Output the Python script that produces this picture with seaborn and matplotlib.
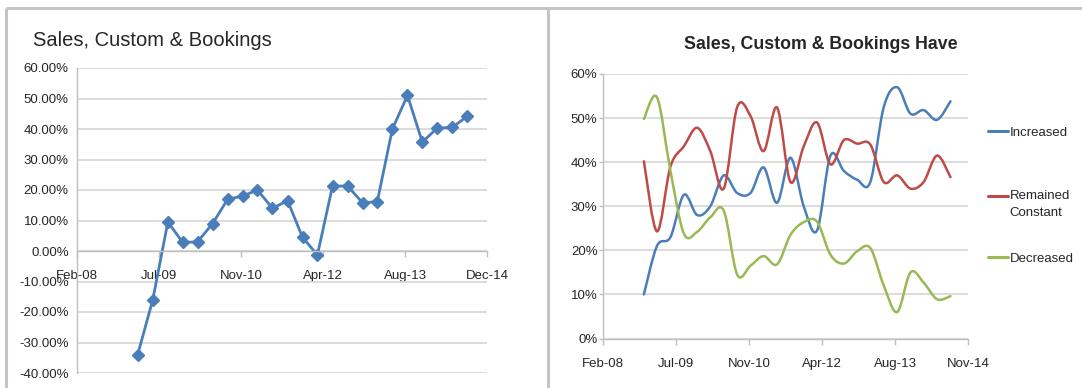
import numpy as np
import pandas as pd
import matplotlib
matplotlib.use("Agg")
import matplotlib.pyplot as plt
from matplotlib.path import Path
from matplotlib.patches import PathPatch
from matplotlib.lines import Line2D
from matplotlib import font_manager
import matplotlib.dates as mdates
import seaborn as sns

# ---------------------------------------------------------------- data
# Net balance: % reporting an increase minus % reporting a decrease (quarterly)
net_dates = pd.date_range("2009-03-01", "2014-09-01", freq="3MS")
net_balance = [-34.0, -16.0, 9.5, 2.8, 3.0, 9.0, 17.0, 18.0, 20.0, 14.0, 16.5,
               4.5, -1.3, 21.3, 21.3, 15.8, 16.2, 40.0, 51.0, 35.7, 40.3, 40.5, 44.2]

# Share of respondents by answer (quarterly)
share_dates = pd.date_range("2008-12-01", "2014-09-01", freq="3MS")
increased = [10.0, 21.0, 23.0, 32.6, 28.0, 30.0, 37.0, 33.0, 33.0, 38.8, 30.8, 41.0,
             30.0, 24.5, 41.5, 38.0, 36.0, 35.5, 52.5, 57.0, 51.0, 51.8, 49.6, 53.8]
remained = [40.2, 24.3, 39.0, 43.6, 47.8, 42.5, 34.0, 52.5, 50.5, 42.5, 52.4, 35.5,
            43.6, 49.0, 39.5, 45.0, 44.2, 44.0, 35.5, 37.0, 34.0, 35.5, 41.5, 36.6]
decreased = [49.8, 54.7, 38.0, 23.8, 24.2, 27.5, 29.0, 14.5, 16.5, 18.7, 16.8, 23.5,
             26.4, 26.5, 19.0, 17.0, 19.8, 20.5, 12.0, 6.0, 15.0, 12.7, 8.9, 9.6]
series_names = ["Increased", "Remained\nConstant", "Decreased"]

left_title = "Sales, Custom & Bookings"
right_title = "Sales, Custom & Bookings Have"
left_xlabels = ["Feb-08", "Jul-09", "Nov-10", "Apr-12", "Aug-13", "Dec-14"]
right_xlabels = ["Feb-08", "Jul-09", "Nov-10", "Apr-12", "Aug-13", "Nov-14"]
axis_start = "2008-02-25"
tick_step_days = 500

# ---------------------------------------------------------------- style
sns.set_theme(style="white")
names = {f.name for f in font_manager.fontManager.ttflist}
NARROW = "Liberation Sans Narrow" if "Liberation Sans Narrow" in names else "Liberation Sans"
plt.rcParams["font.family"] = [NARROW, "DejaVu Sans"]

BLUE, RED, GREEN = "#4A7EBB", "#BE4B48", "#98B954"
GRID = "#d9d9d9"
AXIS = "#bfbfbf"
TEXT = "#262626"

W, H = 1082, 388
fig = plt.figure(figsize=(W / 100, H / 100), dpi=100)
fig.patch.set_facecolor("white")

tick_dates = pd.date_range(axis_start, periods=len(left_xlabels),
                           freq=f"{tick_step_days}D")


def style_axes(ax, labels, ylim, yfmt, xpad, ypad, ytick_len):
    ax.set_xlim(tick_dates[0], tick_dates[-1])
    ax.set_ylim(*ylim)
    ax.set_xticks(tick_dates)
    ax.set_xticklabels(labels)
    yt = np.arange(ylim[0], ylim[1] + 1, 10)
    ax.set_yticks(yt)
    ax.set_yticklabels([yfmt.format(v) for v in yt])
    ax.yaxis.grid(True, color=GRID, lw=1.3)
    ax.xaxis.grid(False)
    ax.set_axisbelow(True)
    for s in ("top", "right"):
        ax.spines[s].set_visible(False)
    for s in ("left", "bottom"):
        ax.spines[s].set_color(AXIS)
        ax.spines[s].set_linewidth(1.0)
    ax.tick_params(axis="x", length=4, width=1, color=AXIS, direction="out",
                   pad=xpad, labelsize=9.5, labelcolor=TEXT, bottom=True)
    ax.tick_params(axis="y", length=ytick_len, width=1, color=AXIS,
                   pad=ypad, labelsize=9.5, labelcolor=TEXT, left=True)
    ax.set_xlabel("")
    ax.set_ylabel("")


# ---------------------------------------------------------------- left chart
axL = fig.add_axes([77 / W, 1 - 373 / H, 410 / W, 305 / H])
sns.lineplot(x=net_dates, y=net_balance, ax=axL, color=BLUE, lw=2.0,
             marker="D", markersize=6.5, markeredgecolor=BLUE, markeredgewidth=1)
style_axes(axL, left_xlabels, (-40, 60), "{:.2f}%", xpad=9.5, ypad=6, ytick_len=0)
axL.spines["bottom"].set_position(("data", 0))
axL.text(-0.107, 1.09, left_title, transform=axL.transAxes, ha="left",
         va="center", fontsize=14.5, color=TEXT)

# ---------------------------------------------------------------- right chart
axR = fig.add_axes([603 / W, 1 - 338.5 / H, 365 / W, 264.5 / H])
style_axes(axR, right_xlabels, (0, 60), "{:.0f}%", xpad=10, ypad=1, ytick_len=3)


def smooth_path(xs, ys):
    """Cubic Bezier path through every point (spreadsheet-style smoothed line)."""
    pts = np.column_stack([mdates.date2num(xs), np.asarray(ys, float)])
    n = len(pts)
    verts, codes = [pts[0]], [Path.MOVETO]
    for i in range(n - 1):
        p0 = pts[max(i - 1, 0)]
        p1 = pts[i]
        p2 = pts[i + 1]
        p3 = pts[min(i + 2, n - 1)]
        verts += [p1 + (p2 - p0) / 6.0, p2 - (p3 - p1) / 6.0, p2]
        codes += [Path.CURVE4] * 3
    return Path(verts, codes)


handles = []
for vals, col in zip((increased, remained, decreased), (BLUE, RED, GREEN)):
    axR.add_patch(PathPatch(smooth_path(share_dates, vals), fill=False,
                            edgecolor=col, lw=1.8, capstyle="round",
                            joinstyle="round"))
    handles.append(Line2D([], [], color=col, lw=2.2))

legend_labels = [series_names[0], "\n" + series_names[1], series_names[2]]
leg = axR.legend(handles, legend_labels, loc="upper left",
                 bbox_to_anchor=(988 / W, 1 - 126.5 / H),
                 bbox_transform=fig.transFigure, frameon=False, fontsize=9.5,
                 handlelength=1.5, handletextpad=0.15, labelspacing=2.55,
                 borderpad=0, borderaxespad=0)
for t in leg.get_texts():
    t.set_color(TEXT)
    t.set_linespacing(1.6)

axR.text(0.597, 1.11, right_title, transform=axR.transAxes, ha="center",
         va="center", fontsize=12.8, fontweight="bold", color=TEXT)

# ---------------------------------------------------------------- panel frames
frame = dict(transform=fig.transFigure, color="#c4c4c4", lw=2.2,
             solid_capstyle="butt")
fig.add_artist(Line2D([6 / W, 1], [1 - 8 / H, 1 - 8 / H], **frame))
fig.add_artist(Line2D([6 / W, 6 / W], [0, 1 - 8 / H], **frame))
fig.add_artist(Line2D([548 / W, 548 / W], [0, 1 - 8 / H], **frame))

fig.savefig("out.png", dpi=100, facecolor="white")
